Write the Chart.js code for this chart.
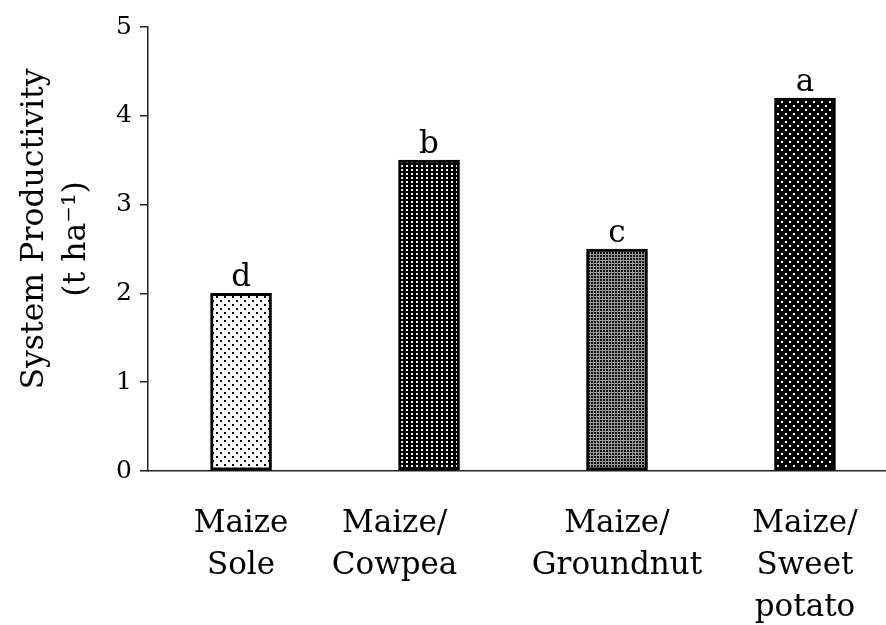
<!DOCTYPE html>
<html>
<head>
<meta charset="utf-8">
<script src="https://cdn.jsdelivr.net/npm/chart.js@4"></script>
<style>
  html, body { margin: 0; padding: 0; background: #fff; overflow: hidden; }
</style>
</head>
<body>
<canvas id="chart" width="886" height="625"></canvas>
<script>
// trailing spaces on the Cowpea label keep it left of its bar, as in the original figure
const systems = [
    ['Maize', 'Sole'],
    ['Maize/       ', 'Cowpea       '],
    ['Maize/', 'Groundnut'],
    ['Maize/', 'Sweet', 'potato']
];
const productivity = [2.0, 3.5, 2.5, 4.2];
const letters = ['d', 'b', 'c', 'a'];
const yTicks = [0, 1, 2, 3, 4, 5];

const canvas = document.getElementById('chart');
const ctx = canvas.getContext('2d');
const serif = 'DejaVu Serif';

// small tiles to imitate the Excel dot fills
function makePattern(size, bg, fg, dots) {
    const tile = document.createElement('canvas');
    tile.width = size[0];
    tile.height = size[1];
    const t = tile.getContext('2d');
    t.fillStyle = bg;
    t.fillRect(0, 0, size[0], size[1]);
    t.fillStyle = fg;
    dots.forEach(d => t.fillRect(d[0], d[1], d[2], d[3]));
    return ctx.createPattern(tile, 'repeat');
}

const fills = [
    makePattern([8, 8], '#fff', '#000', [[0, 0, 2, 2], [4, 4, 2, 2]]),
    makePattern([5, 4], '#000', '#fff', [[1, 1, 2, 2]]),
    makePattern([3, 3], '#9a9a9a', '#111', [[0, 0, 2, 2]]),
    makePattern([8, 8], '#000', '#fff', [[1, 1, 2, 2], [5, 5, 2, 2]])
];

const letterPlugin = {
    id: 'letters',
    afterDatasetsDraw(chart) {
        const c = chart.ctx;
        const meta = chart.getDatasetMeta(0);
        c.save();
        c.fillStyle = '#000';
        c.font = '31px "' + serif + '"';
        c.textAlign = 'center';
        c.textBaseline = 'alphabetic';
        meta.data.forEach((bar, i) => {
            c.fillText(letters[i], bar.x, bar.y - 7);
        });
        c.restore();
    }
};

new Chart(ctx, {
    type: 'bar',
    data: {
        datasets: [{
            data: productivity.map((v, i) => ({ x: i + 1, y: v })),
            backgroundColor: fills,
            borderColor: '#000',
            borderWidth: 3,
            borderSkipped: false,
            barThickness: 61
        }]
    },
    options: {
        responsive: false,
        devicePixelRatio: 1,
        animation: false,
        layout: { padding: { top: 27, right: 0, bottom: 0, left: 0 } },
        plugins: {
            legend: { display: false },
            tooltip: { enabled: false }
        },
        scales: {
            x: {
                type: 'linear',
                offset: false,
                min: 0.505,
                max: 4.431,
                grid: { display: false },
                border: { display: true, color: '#222', width: 1.5 },
                ticks: {
                    stepSize: 1,
                    includeBounds: false,
                    autoSkip: false,
                    maxRotation: 0,
                    padding: 24,
                    color: '#000',
                    font: { family: serif, size: 31, lineHeight: 1.36 },
                    callback: v => systems[v - 1] || ''
                },
                afterFit: s => { s.height = 154; }
            },
            y: {
                min: 0,
                max: 5,
                grid: { drawOnChartArea: false, tickLength: 8, color: '#222', lineWidth: 1.5 },
                border: { display: true, color: '#222', width: 1.5 },
                afterBuildTicks: s => { s.ticks = yTicks.map(v => ({ value: v })); },
                ticks: {
                    padding: 8,
                    color: '#000',
                    font: { family: serif, size: 25 }
                },
                title: {
                    display: true,
                    // leading spaces lift the title a little, as in the original
                    text: ['    System Productivity', '  (t ha\u207B\u00B9)'],
                    color: '#000',
                    font: { family: serif, size: 31.5, lineHeight: 1.33 },
                    padding: { top: 14, bottom: 0 }
                },
                afterFit: s => { s.width = 148; }
            }
        }
    },
    plugins: [letterPlugin]
});
</script>
</body>
</html>
